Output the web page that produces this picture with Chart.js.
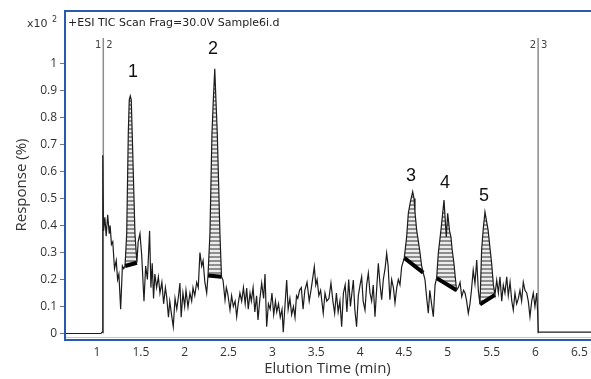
<!DOCTYPE html>
<html>
<head>
<meta charset="utf-8">
<script src="https://cdn.jsdelivr.net/npm/chart.js@4.4.1/dist/chart.umd.min.js"></script>
<style>
  html, body { margin: 0; padding: 0; background: #fff; }
  canvas { display: block; }
</style>
</head>
<body>
<canvas id="chart" width="591" height="379"></canvas>
<script>
// TIC trace (min, response x10^2 %)
var elutionTime = [
  0.624, 1.045, 1.058, 1.066, 1.075, 1.090, 1.105, 1.122, 1.140, 1.150,
  1.165, 1.180, 1.200, 1.220, 1.235, 1.250, 1.270, 1.290, 1.305, 1.320,
  1.339, 1.357, 1.368, 1.380, 1.391, 1.402, 1.433, 1.455, 1.470, 1.490,
  1.510, 1.536, 1.555, 1.575, 1.600, 1.615, 1.630, 1.645, 1.660, 1.680,
  1.700, 1.718, 1.740, 1.760, 1.780, 1.795, 1.815, 1.830, 1.850, 1.870,
  1.890, 1.910, 1.930, 1.946, 1.960, 1.980, 2.000, 2.015, 2.038, 2.060,
  2.080, 2.095, 2.115, 2.137, 2.155, 2.174, 2.194, 2.210, 2.230, 2.251,
  2.266, 2.288, 2.311, 2.326, 2.343, 2.357, 2.372, 2.402, 2.420, 2.437,
  2.460, 2.475, 2.490, 2.517, 2.535, 2.555, 2.575, 2.593, 2.610, 2.630,
  2.650, 2.670, 2.690, 2.707, 2.725, 2.745, 2.760, 2.780, 2.800, 2.820,
  2.836, 2.855, 2.878, 2.900, 2.916, 2.935, 2.955, 2.975, 2.995, 3.015,
  3.035, 3.050, 3.070, 3.090, 3.110, 3.124, 3.145, 3.163, 3.180, 3.200,
  3.220, 3.240, 3.258, 3.275, 3.290, 3.310, 3.330, 3.350, 3.370, 3.395,
  3.420, 3.445, 3.478, 3.495, 3.510, 3.530, 3.550, 3.580, 3.600, 3.620,
  3.645, 3.668, 3.690, 3.710, 3.730, 3.750, 3.770, 3.790, 3.810, 3.830,
  3.850, 3.870, 3.890, 3.923, 3.940, 3.960, 3.980, 4.000, 4.018, 4.035,
  4.056, 4.075, 4.094, 4.113, 4.132, 4.150, 4.170, 4.190, 4.208, 4.228,
  4.246, 4.265, 4.285, 4.303, 4.320, 4.340, 4.360, 4.380, 4.398, 4.418,
  4.436, 4.455, 4.474, 4.504, 4.531, 4.550, 4.575, 4.600, 4.615, 4.626,
  4.645, 4.665, 4.683, 4.702, 4.720, 4.740, 4.760, 4.778, 4.795, 4.815,
  4.835, 4.855, 4.873, 4.892, 4.922, 4.940, 4.957, 4.983, 4.999, 5.020,
  5.036, 5.050, 5.070, 5.100, 5.120, 5.140, 5.159, 5.180, 5.197, 5.215,
  5.234, 5.253, 5.270, 5.290, 5.310, 5.330, 5.348, 5.367, 5.386, 5.405,
  5.424, 5.440, 5.460, 5.480, 5.500, 5.520, 5.538, 5.558, 5.577, 5.595,
  5.615, 5.633, 5.652, 5.672, 5.690, 5.710, 5.730, 5.747, 5.766, 5.785,
  5.805, 5.823, 5.842, 5.861, 5.880, 5.900, 5.918, 5.937, 5.957, 5.975,
  5.994, 6.014, 6.025, 6.032, 6.633
];
var response = [
  0.000, 0.000, 0.005, 0.660, 0.380, 0.430, 0.360, 0.440, 0.370, 0.400,
  0.330, 0.340, 0.240, 0.270, 0.200, 0.220, 0.090, 0.250, 0.240, 0.250,
  0.370, 0.740, 0.865, 0.880, 0.865, 0.740, 0.370, 0.262, 0.340, 0.370,
  0.290, 0.120, 0.250, 0.200, 0.380, 0.170, 0.260, 0.130, 0.220, 0.170,
  0.210, 0.150, 0.190, 0.110, 0.170, 0.136, 0.060, 0.120, 0.070, 0.025,
  0.130, 0.090, 0.140, 0.187, 0.060, 0.150, 0.100, 0.160, 0.098, 0.150,
  0.120, 0.170, 0.140, 0.190, 0.170, 0.300, 0.250, 0.270, 0.190, 0.150,
  0.215, 0.370, 0.740, 0.860, 0.980, 0.860, 0.740, 0.370, 0.210, 0.198,
  0.124, 0.170, 0.150, 0.087, 0.140, 0.100, 0.120, 0.062, 0.110, 0.150,
  0.120, 0.170, 0.110, 0.168, 0.090, 0.150, 0.120, 0.170, 0.080, 0.140,
  0.050, 0.120, 0.187, 0.130, 0.220, 0.025, 0.110, 0.090, 0.150, 0.070,
  0.120, 0.080, 0.110, 0.060, 0.090, 0.005, 0.110, 0.198, 0.090, 0.130,
  0.070, 0.100, 0.060, 0.140, 0.130, 0.160, 0.170, 0.090, 0.160, 0.190,
  0.120, 0.170, 0.247, 0.180, 0.200, 0.140, 0.160, 0.075, 0.150, 0.120,
  0.130, 0.187, 0.120, 0.075, 0.150, 0.080, 0.120, 0.025, 0.150, 0.180,
  0.080, 0.200, 0.100, 0.198, 0.090, 0.025, 0.140, 0.180, 0.210, 0.120,
  0.087, 0.180, 0.224, 0.150, 0.120, 0.180, 0.062, 0.170, 0.260, 0.180,
  0.125, 0.200, 0.240, 0.297, 0.250, 0.125, 0.200, 0.170, 0.113, 0.170,
  0.200, 0.180, 0.247, 0.280, 0.358, 0.445, 0.490, 0.525, 0.500, 0.450,
  0.383, 0.340, 0.300, 0.250, 0.225, 0.200, 0.130, 0.075, 0.160, 0.110,
  0.062, 0.180, 0.205, 0.297, 0.383, 0.440, 0.494, 0.358, 0.445, 0.380,
  0.358, 0.310, 0.260, 0.160, 0.170, 0.190, 0.136, 0.160, 0.150, 0.120,
  0.075, 0.110, 0.160, 0.235, 0.185, 0.272, 0.160, 0.108, 0.310, 0.390,
  0.450, 0.420, 0.383, 0.320, 0.260, 0.180, 0.143, 0.198, 0.150, 0.210,
  0.120, 0.180, 0.150, 0.210, 0.140, 0.190, 0.120, 0.087, 0.150, 0.110,
  0.130, 0.160, 0.120, 0.190, 0.160, 0.150, 0.120, 0.062, 0.120, 0.150,
  0.100, 0.150, 0.076, 0.005, 0.005
];

// integrated peaks: start/end time and baseline level at each end
var peakNames = ['1', '2', '3', '4', '5'];
var peakStart = [1.320, 2.266, 4.504, 4.873, 5.367];
var peakEnd   = [1.455, 2.420, 4.720, 5.100, 5.538];
var baseStart = [0.250, 0.215, 0.280, 0.205, 0.108];
var baseEnd   = [0.262, 0.210, 0.225, 0.160, 0.143];
var peakLabelTime = [1.41, 2.323, 4.58, 4.968, 5.413];
var peakLabelResp = [0.968, 1.054, 0.583, 0.557, 0.509];

// time segment markers
var markerTime = [1.072, 6.030];
var markerTop = 1.094;
var markerLabels = [['1', '2'], ['2', '3']];

var xTicks = [1, 1.5, 2, 2.5, 3, 3.5, 4, 4.5, 5, 5.5, 6, 6.5];
var yTicks = [0, 0.1, 0.2, 0.3, 0.4, 0.5, 0.6, 0.7, 0.8, 0.9, 1];

var ctx = document.getElementById('chart').getContext('2d');

// horizontal hatch used for the integrated areas
var tile = document.createElement('canvas');
tile.width = 4; tile.height = 4;
var tg = tile.getContext('2d');
tg.fillStyle = '#ececec'; tg.fillRect(0, 0, 4, 4);
tg.fillStyle = '#8e8e8e'; tg.fillRect(0, 0, 4, 2);
var hatch = ctx.createPattern(tile, 'repeat');

var trace = elutionTime.map(function(t, i) { return {x: t, y: response[i]}; });

var datasets = [{
  data: trace,
  borderColor: '#1c1c1c',
  borderWidth: 1.2,
  pointRadius: 0,
  fill: false,
  order: 0
}];

markerTime.forEach(function(t) {
  datasets.push({
    data: [{x: t, y: 0}, {x: t, y: markerTop}],
    borderColor: '#8c8c8c',
    borderWidth: 1.5,
    pointRadius: 0,
    fill: false,
    order: 4
  });
});

peakNames.forEach(function(name, i) {
  var baseIndex = datasets.length;
  datasets.push({
    data: [{x: peakStart[i], y: baseStart[i]}, {x: peakEnd[i], y: baseEnd[i]}],
    borderColor: '#000',
    borderWidth: 4,
    pointRadius: 0,
    fill: false,
    order: 1
  });
  datasets.push({
    data: trace.filter(function(p) { return p.x >= peakStart[i] && p.x <= peakEnd[i]; }),
    borderWidth: 0,
    borderColor: 'rgba(0,0,0,0)',
    backgroundColor: hatch,
    pointRadius: 0,
    fill: baseIndex,
    order: 3
  });
});

var decor = {
  id: 'decor',
  afterDraw: function(chart) {
    var c = chart.ctx, a = chart.chartArea, xs = chart.scales.x, ys = chart.scales.y;
    c.save();
    // frame: top, left and bottom only
    c.fillStyle = '#c8c8c8';
    c.fillRect(a.left, a.bottom - 3, a.right - a.left, 1);
    c.fillStyle = '#2a5aae';
    c.fillRect(a.left, a.top, a.right - a.left, 2);
    c.fillRect(a.left, a.top, 2, a.bottom - a.top + 1);
    c.fillRect(a.left, a.bottom - 1, a.right - a.left, 2);

    // title inside plot
    c.fillStyle = '#222';
    c.textBaseline = 'middle';
    c.textAlign = 'left';
    c.font = '11px "DejaVu Sans", sans-serif';
    c.fillText('+ESI TIC Scan Frag=30.0V Sample6i.d', a.left + 4, 23);

    // scale factor
    c.fillStyle = '#333';
    c.font = '11px "DejaVu Sans", sans-serif';
    c.fillText('x10', 27, 24);
    c.font = '8px "DejaVu Sans", sans-serif';
    c.fillText('2', 52, 20);

    // marker labels
    c.font = '10px "DejaVu Sans", sans-serif';
    c.fillStyle = '#444';
    markerTime.forEach(function(t, i) {
      var px = xs.getPixelForValue(t);
      c.textAlign = 'right';
      c.fillText(markerLabels[i][0], px - 2, 45);
      c.textAlign = 'left';
      c.fillText(markerLabels[i][1], px + 3, 45);
    });

    // peak numbers
    c.font = '18px "Liberation Sans", Arial, sans-serif';
    c.fillStyle = '#111';
    c.textAlign = 'center';
    peakNames.forEach(function(n, i) {
      c.fillText(n, xs.getPixelForValue(peakLabelTime[i]), ys.getPixelForValue(peakLabelResp[i]));
    });

    // y title
    c.translate(22, 185);
    c.rotate(-Math.PI / 2);
    c.font = '15px "Open Sans", sans-serif';
    c.fillStyle = '#333';
    c.fillText('Response (%)', 0, 0);
    c.restore();
  }
};

new Chart(ctx, {
  type: 'line',
  data: { datasets: datasets },
  plugins: [decor],
  options: {
    responsive: false,
    animation: false,
    layout: { padding: { top: 10, right: 0, left: 0, bottom: 0 } },
    plugins: { legend: { display: false }, tooltip: { enabled: false } },
    elements: { line: { tension: 0 } },
    scales: {
      x: {
        type: 'linear',
        min: 0.624,
        max: 6.633,
        afterBuildTicks: function(s) { s.ticks = xTicks.map(function(v) { return {value: v}; }); },
        afterFit: function(s) { s.height = 39; s.paddingRight = 0; s.paddingLeft = 0; },
        grid: { display: false, drawTicks: false },
        border: { display: false },
        ticks: {
          font: { family: 'Open Sans', size: 12 },
          color: '#333',
          padding: 5,
          maxRotation: 0,
          autoSkip: false,
          callback: function(v) { return String(v); }
        },
        title: {
          display: true,
          text: 'Elution Time (min)',
          font: { family: 'Open Sans', size: 15 },
          color: '#333',
          padding: { top: 0, bottom: 1 }
        }
      },
      y: {
        min: -0.024,
        max: 1.198,
        afterBuildTicks: function(s) { s.ticks = yTicks.map(function(v) { return {value: v}; }); },
        afterFit: function(s) { s.width = 64; s.paddingTop = 0; s.paddingBottom = 0; },
        grid: { drawOnChartArea: false, tickLength: 4, color: '#777' },
        border: { display: false },
        ticks: {
          font: { family: 'Open Sans', size: 12 },
          color: '#333',
          padding: 3,
          callback: function(v) { return String(v); }
        }
      }
    }
  }
});
</script>
</body>
</html>
